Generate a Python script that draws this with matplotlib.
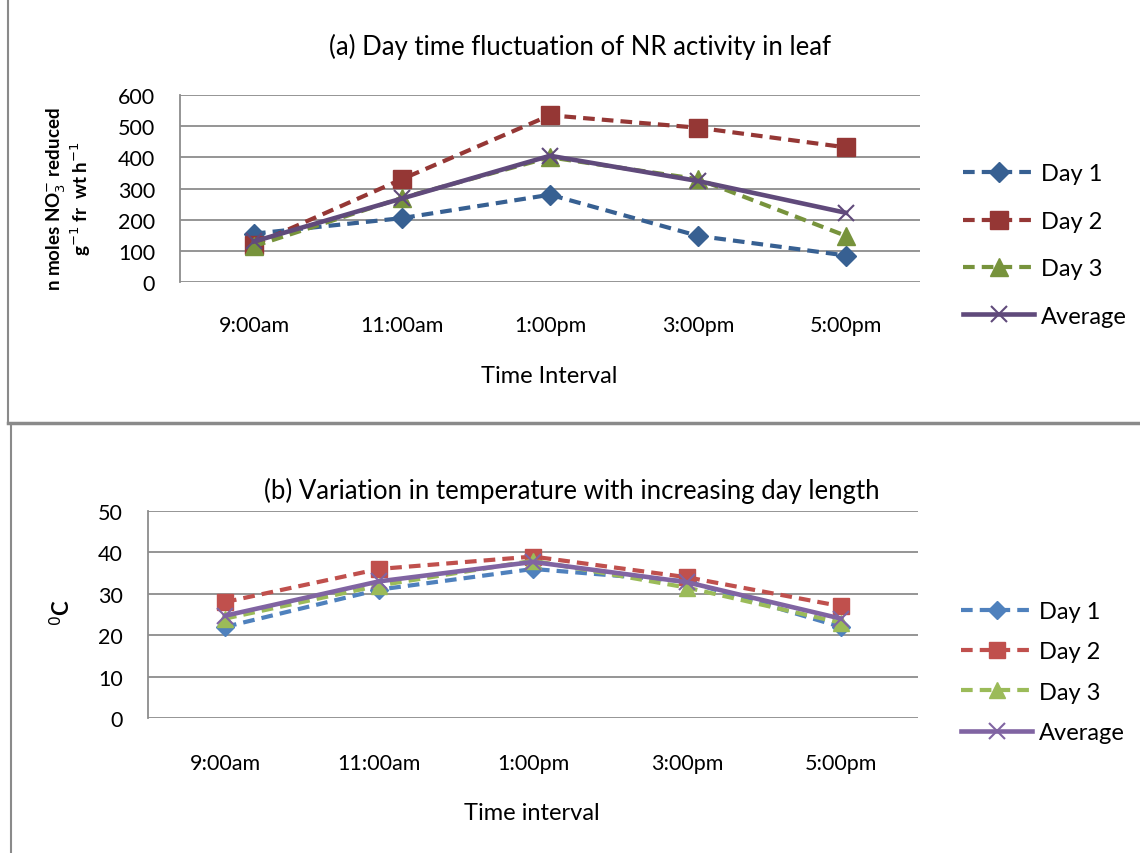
import matplotlib
matplotlib.use("Agg")
import matplotlib.pyplot as plt
from matplotlib.lines import Line2D

times = ["9:00am", "11:00am", "1:00pm", "3:00pm", "5:00pm"]

nr_day1 = [155, 205, 280, 148, 85]
nr_day2 = [120, 330, 535, 495, 432]
nr_day3 = [115, 270, 400, 330, 148]
nr_avg = [130, 268, 405, 324, 222]

temp_day1 = [22, 31, 36, 33, 22]
temp_day2 = [28, 36, 39, 34, 27]
temp_day3 = [24, 32, 38, 31.5, 23]
temp_avg = [24.7, 33, 37.7, 32.8, 24]

series_names = ["Day 1", "Day 2", "Day 3", "Average"]

plt.rcParams['font.family'] = ['Lato', 'DejaVu Sans']
narrow = ['Liberation Sans Narrow', 'Lato', 'DejaVu Sans']

fig = plt.figure(figsize=(11.4, 8.54), dpi=100)
W, H = 1140, 854

def ax_rect(l, t, r, b):
    return [l / W, 1 - b / H, (r - l) / W, (b - t) / H]

grid_c = '#8c8c8c'

def style_axes(ax, ymax, ystep, xpad, ypad):
    ax.set_xlim(-0.5, 4.5)
    ax.set_ylim(0, ymax)
    ax.set_yticks(range(0, ymax + 1, ystep))
    ax.set_xticks(range(5))
    ax.set_xticklabels(times)
    ax.yaxis.grid(True, color=grid_c, lw=1.3)
    ax.set_axisbelow(True)
    for s in ['top', 'right', 'bottom']:
        ax.spines[s].set_visible(False)
    ax.spines['left'].set_color(grid_c)
    ax.spines['left'].set_linewidth(1.3)
    ax.tick_params(axis='x', length=0, pad=xpad, labelsize=15.5)
    ax.tick_params(axis='y', length=0, pad=ypad, labelsize=15.5)

# ---- top panel ----
ax1 = fig.add_axes(ax_rect(180, 96, 920, 283))
style_axes(ax1, 600, 100, 24, 18)
c1 = ['#376092', '#953735', '#77933c', '#604a7b']
x = range(5)
dash = (2.8, 1.7)
l1, = ax1.plot(x, nr_day1, color=c1[0], lw=3, dashes=dash, marker='D', ms=10, label=series_names[0])
l2, = ax1.plot(x, nr_day2, color=c1[1], lw=3, dashes=dash, marker='s', ms=12.5, label=series_names[1])
l3, = ax1.plot(x, nr_day3, color=c1[2], lw=3, dashes=dash, marker='^', ms=12.5, label=series_names[2])
l4, = ax1.plot(x, nr_avg, color=c1[3], lw=3.3, marker='x', ms=12, mew=1.5, label=series_names[3])
for l in (l1, l2, l3, l4):
    l.set_clip_on(False)
leg1 = fig.legend(handles=[l1, l2, l3, l4], loc='center left',
                  bbox_to_anchor=(942 / W, 1 - 246 / H), frameon=False,
                  fontsize=17, handlelength=3.0, labelspacing=1.12, handletextpad=0.3)

fig.text(580 / W, 1 - 47 / H, "(a) Day time fluctuation of NR activity in leaf",
         ha='center', va='center', fontsize=18.5, family=narrow)
fig.text(549 / W, 1 - 377 / H, "Time Interval", ha='center', va='center',
         fontsize=17, family=narrow)
fig.text(69 / W, 1 - 199 / H,
         "n moles NO$_3^{-}$ reduced\ng$^{-1}$ fr  wt h$^{-1}$",
         ha='center', va='center', rotation=90, fontsize=13.5, fontweight='bold',
         multialignment='center', linespacing=1.0)

# ---- bottom panel ----
ax2 = fig.add_axes(ax_rect(148, 512, 918, 719))
style_axes(ax2, 50, 10, 25, 18)
c2 = ['#4f81bd', '#c0504d', '#9bbb59', '#8064a2']
m1, = ax2.plot(x, temp_day1, color=c2[0], lw=3, dashes=dash, marker='D', ms=9, label=series_names[0])
m2, = ax2.plot(x, temp_day2, color=c2[1], lw=3, dashes=dash, marker='s', ms=11, label=series_names[1])
m3, = ax2.plot(x, temp_day3, color=c2[2], lw=3, dashes=dash, marker='^', ms=11, label=series_names[2])
m4, = ax2.plot(x, temp_avg, color=c2[3], lw=3.3, marker='x', ms=11, mew=1.5, label=series_names[3])
leg2 = fig.legend(handles=[m1, m2, m3, m4], loc='center left',
                  bbox_to_anchor=(940 / W, 1 - 673 / H), frameon=False,
                  fontsize=17, handlelength=3.0, labelspacing=0.82, handletextpad=0.3)

fig.text(572 / W, 1 - 491 / H, "(b) Variation in temperature with increasing day length",
         ha='center', va='center', fontsize=18.5, family=narrow)
fig.text(532 / W, 1 - 814 / H, "Time interval", ha='center', va='center',
         fontsize=17, family=narrow)
fig.text(62 / W, 1 - 612 / H, "$^{0}$C", ha='center', va='center', rotation=90,
         fontsize=16, fontweight='bold')

# ---- panel borders ----
bc = '#8a8a8a'
fig.add_artist(Line2D([8 / W, 8 / W], [1, 1 - 424 / H], color=bc, lw=1.5, transform=fig.transFigure))
fig.add_artist(Line2D([8 / W, 1], [1 - 424 / H, 1 - 424 / H], color=bc, lw=2.5, transform=fig.transFigure))
fig.add_artist(Line2D([11 / W, 11 / W], [1 - 427 / H, 0], color=bc, lw=1.5, transform=fig.transFigure))

fig.savefig("out.png", dpi=100)
